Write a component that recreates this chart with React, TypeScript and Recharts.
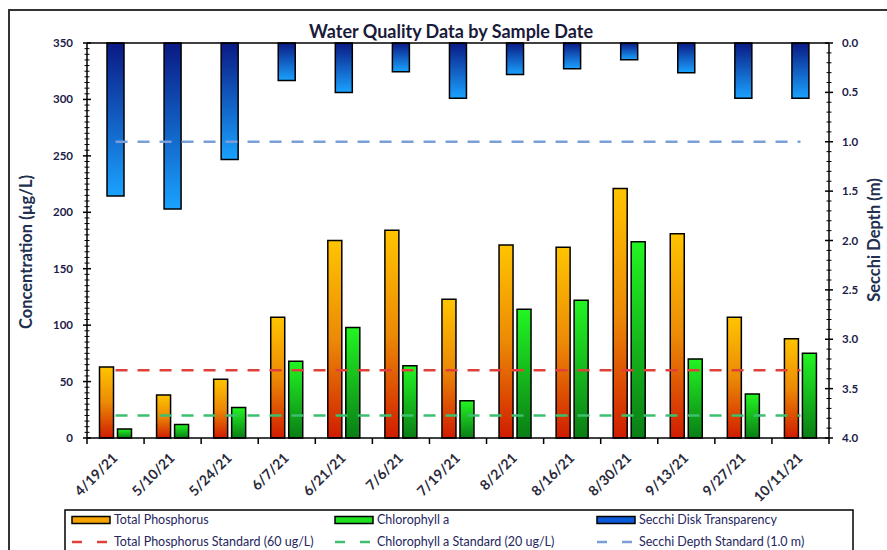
import { ComposedChart, Bar, Line, XAxis, YAxis, ReferenceLine } from "recharts";

const sampleDates = [
  "4/19/21", "5/10/21", "5/24/21", "6/7/21", "6/21/21", "7/6/21", "7/19/21",
  "8/2/21", "8/16/21", "8/30/21", "9/13/21", "9/27/21", "10/11/21",
];
const totalPhosphorus = [63, 38, 52, 107, 175, 184, 123, 171, 169, 221, 181, 107, 88];
const chlorophyllA = [8, 12, 27, 68, 98, 64, 33, 114, 122, 174, 70, 39, 75];
const secchiDepth = [1.55, 1.68, 1.18, 0.38, 0.5, 0.29, 0.56, 0.32, 0.26, 0.17, 0.3, 0.56, 0.56];

const tpStandard = 60;
const chlStandard = 20;
const secchiStandard = 1.0;

const concTicks = [0, 50, 100, 150, 200, 250, 300, 350];
const depthTicks = [0, 0.5, 1, 1.5, 2, 2.5, 3, 3.5, 4];

// minor ticks between the labelled ones
function withMinor(major: number[], parts: number) {
  const out: number[] = [];
  for (let i = 0; i < major.length - 1; i++) {
    const step = (major[i + 1] - major[i]) / parts;
    for (let k = 0; k < parts; k++) out.push(+(major[i] + k * step).toFixed(4));
  }
  out.push(major[major.length - 1]);
  return out;
}
const concAllTicks = withMinor(concTicks, 10);
const depthAllTicks = withMinor(depthTicks, 5);

const data = sampleDates.map((date, i) => ({
  date,
  tp: totalPhosphorus[i],
  chl: chlorophyllA[i],
  secchi: secchiDepth[i],
  tpStd: tpStandard,
  chlStd: chlStandard,
  secchiStd: secchiStandard,
}));

const W = 887;
const H = 550;
const PLOT_LEFT = 87;
const PLOT_RIGHT = 829;
const PLOT_TOP = 43;
const PLOT_BOTTOM = 438;
const BAND = (PLOT_RIGHT - PLOT_LEFT) / sampleDates.length;

const FONT = "Lato, 'Liberation Sans', Arial, sans-serif";
const TEXT = "#1c1c48";

function ConcTick({ x, y, payload }: any) {
  const major = concTicks.includes(payload.value);
  const len = major ? 4 : 2.5;
  return (
    <g>
      <line x1={x - len} x2={x + len} y1={y} y2={y} stroke="#000" strokeWidth={major ? 1.5 : 1} />
      {major && (
        <text x={x - 14} y={y} dy={4} textAnchor="end" fontFamily={FONT} fontSize={11.5} fontWeight="bold" fill={TEXT}>
          {payload.value}
        </text>
      )}
    </g>
  );
}

function DepthTick({ x, y, payload }: any) {
  const major = depthTicks.some((t) => Math.abs(t - payload.value) < 1e-6);
  const len = major ? 4 : 2.5;
  return (
    <g>
      <line x1={x - len} x2={x + len} y1={y} y2={y} stroke="#000" strokeWidth={major ? 1.5 : 1} />
      {major && (
        <text x={x + 13} y={y} dy={4} textAnchor="start" fontFamily={FONT} fontSize={11.5} fontWeight="bold" fill={TEXT}>
          {Number(payload.value).toFixed(1)}
        </text>
      )}
    </g>
  );
}

function DateTick({ x, y, payload, index }: any) {
  const tx = x + 3;
  const ty = y + 21;
  return (
    <g>
      {index === 0 && (
        <line x1={x - BAND / 2} x2={x - BAND / 2} y1={y} y2={y + 6} stroke="#000" strokeWidth={1.5} />
      )}
      <line x1={x + BAND / 2} x2={x + BAND / 2} y1={y} y2={y + 6} stroke="#000" strokeWidth={1.5} />
      <text
        x={tx}
        y={ty}
        textAnchor="end"
        transform={`rotate(-45 ${tx} ${ty})`}
        fontFamily={FONT}
        fontSize={14}
        fontWeight="bold"
        fill="#2a2a3a"
      >
        {payload.value}
      </text>
    </g>
  );
}

const legendRow1 = [
  { x: 72, label: "Total Phosphorus", fill: "#f5a300" },
  { x: 335, label: "Chlorophyll a", fill: "#1ee01e" },
  { x: 597, label: "Secchi Disk Transparency", fill: "#0b5ad8" },
];
const legendRow2 = [
  { x: 72, label: "Total Phosphorus Standard (60 ug/L)", stroke: "#e0403a" },
  { x: 335, label: "Chlorophyll a Standard (20 ug/L)", stroke: "#3cc070" },
  { x: 597, label: "Secchi Depth Standard (1.0 m)", stroke: "#7a9fd8" },
];

export default function App() {
  return (
    <div style={{ position: "absolute", left: 0, top: 0, width: W, height: H, background: "#fff", overflow: "hidden" }}>
      <ComposedChart
        width={W}
        height={H}
        data={data}
        margin={{ top: PLOT_TOP, right: 0, bottom: 0, left: 0 }}
        barCategoryGap={12.5}
        barGap={4}
      >
        <defs>
          <linearGradient id="tpGrad" x1="0" y1="0" x2="0" y2="1">
            <stop offset="0%" stopColor="#ffc400" />
            <stop offset="50%" stopColor="#ec8a06" />
            <stop offset="100%" stopColor="#d01c00" />
          </linearGradient>
          <linearGradient id="chlGrad" x1="0" y1="0" x2="0" y2="1">
            <stop offset="0%" stopColor="#22f522" />
            <stop offset="100%" stopColor="#0a7e16" />
          </linearGradient>
          <linearGradient id="secGrad" x1="0" y1="0" x2="0" y2="1">
            <stop offset="0%" stopColor="#0a1a84" />
            <stop offset="100%" stopColor="#1aa2ff" />
          </linearGradient>
        </defs>
        <XAxis
          xAxisId="main"
          dataKey="date"
          height={H - PLOT_BOTTOM}
          interval={0}
          tickLine={false}
          tickSize={0}
          tickMargin={0}
          axisLine={{ stroke: "#000", strokeWidth: 1.5 }}
          tick={<DateTick />}
        />
        <XAxis xAxisId="sec" dataKey="date" hide />
        <YAxis
          yAxisId="left"
          width={PLOT_LEFT}
          domain={[0, 350]}
          ticks={concAllTicks}
          interval={0}
          tickLine={false}
          tickSize={0}
          tickMargin={0}
          axisLine={{ stroke: "#000", strokeWidth: 1.5 }}
          tick={<ConcTick />}
          label={() => (
            <text
              x={32}
              y={252}
              transform="rotate(-90 32 252)"
              textAnchor="middle"
              fontFamily={FONT}
              fontSize={16.5}
              fontWeight="bold"
              fill="#22304f"
            >
              Concentration (µg/L)
            </text>
          )}
        />
        <YAxis
          yAxisId="right"
          orientation="right"
          width={W - PLOT_RIGHT}
          domain={[0, 4]}
          reversed
          ticks={depthAllTicks}
          interval={0}
          tickLine={false}
          tickSize={0}
          tickMargin={0}
          axisLine={{ stroke: "#000", strokeWidth: 1.5 }}
          tick={<DepthTick />}
          label={() => (
            <text
              x={880}
              y={240}
              transform="rotate(-90 880 240)"
              textAnchor="middle"
              fontFamily={FONT}
              fontSize={16.5}
              fontWeight="bold"
              fill="#22304f"
            >
              Secchi Depth (m)
            </text>
          )}
        />
        <ReferenceLine xAxisId="main" yAxisId="left" y={350} stroke="#000" strokeWidth={1.5} />
        <Bar xAxisId="sec" yAxisId="right" dataKey="secchi" name="Secchi Disk Transparency" barSize={17} fill="url(#secGrad)" stroke="#000" strokeWidth={1.5} isAnimationActive={false} />
        <Bar xAxisId="main" yAxisId="left" dataKey="tp" name="Total Phosphorus" fill="url(#tpGrad)" stroke="#000" strokeWidth={1.5} isAnimationActive={false} />
        <Bar xAxisId="main" yAxisId="left" dataKey="chl" name="Chlorophyll a" fill="url(#chlGrad)" stroke="#000" strokeWidth={1.5} isAnimationActive={false} />
        <Line xAxisId="main" yAxisId="left" dataKey="tpStd" name="Total Phosphorus Standard (60 ug/L)" stroke="#e0403a" strokeWidth={2.5} strokeDasharray="12 10" dot={false} activeDot={false} isAnimationActive={false} />
        <Line xAxisId="main" yAxisId="left" dataKey="chlStd" name="Chlorophyll a Standard (20 ug/L)" stroke="#3cc070" strokeWidth={2.5} strokeDasharray="12 10" dot={false} activeDot={false} isAnimationActive={false} />
        <Line xAxisId="main" yAxisId="right" dataKey="secchiStd" name="Secchi Depth Standard (1.0 m)" stroke="#7a9fd8" strokeWidth={2.5} strokeDasharray="12 10" dot={false} activeDot={false} isAnimationActive={false} />
      </ComposedChart>

      {/* title, legend box and outer frame */}
      <svg width={W} height={H} style={{ position: "absolute", left: 0, top: 0, pointerEvents: "none" }}>
        <rect x={9} y={10} width={W + 20} height={H + 20} fill="none" stroke="#333" strokeWidth={2} />
        <text x={451} y={38} textAnchor="middle" fontFamily={FONT} fontSize={18} fontWeight="bold" fill="#1a1a3a">
          Water Quality Data by Sample Date
        </text>
        <rect x={65} y={510} width={788} height={60} fill="#fff" stroke="#000" strokeWidth={1.5} />
        {legendRow1.map((it) => (
          <g key={it.label}>
            <rect x={it.x} y={516.5} width={38} height={7} fill={it.fill} stroke="#000" strokeWidth={1.5} />
            <text x={it.x + 42} y={524} fontFamily={FONT} fontSize={12.5} fill="#262660">
              {it.label}
            </text>
          </g>
        ))}
        {legendRow2.map((it) => (
          <g key={it.label}>
            <line x1={it.x} x2={it.x + 35} y1={542} y2={542} stroke={it.stroke} strokeWidth={2.5} strokeDasharray="10 15" />
            <text x={it.x + 42} y={546} fontFamily={FONT} fontSize={12.5} fill="#262660">
              {it.label}
            </text>
          </g>
        ))}
      </svg>
    </div>
  );
}
